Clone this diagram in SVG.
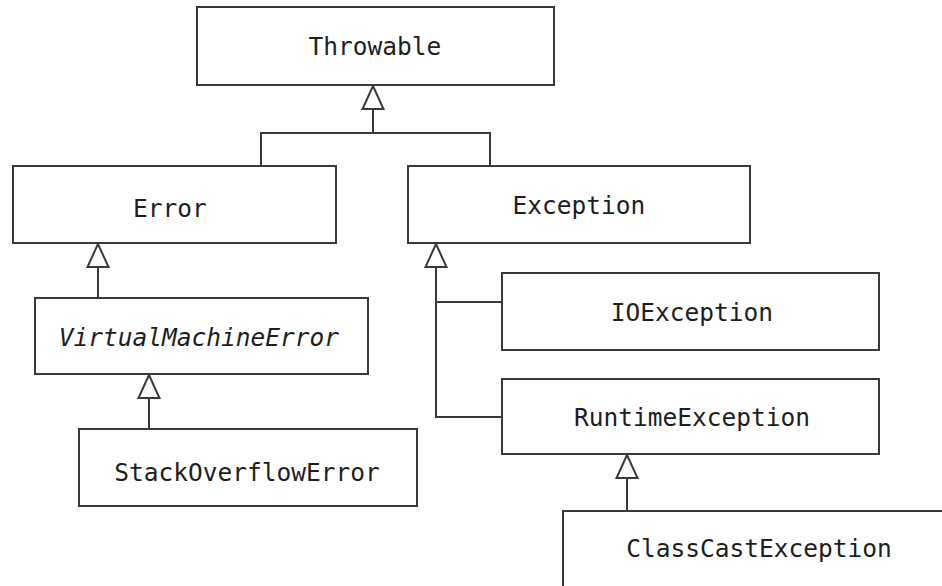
<svg xmlns="http://www.w3.org/2000/svg" width="942" height="586" viewBox="0 0 942 586">
<style>
.box{fill:#fff;stroke:#3a3a3a;stroke-width:2}
.lbl{font-family:"DejaVu Sans Mono","Liberation Mono",monospace;font-size:24.5px;fill:#1e1e1e;text-anchor:middle}
.it{font-style:italic}
.edge{fill:none;stroke:#3a3a3a;stroke-width:2}
</style>
<defs>
<marker id="gen" viewBox="-25 -12 26 24" refX="0" refY="0" markerWidth="26" markerHeight="24" markerUnits="userSpaceOnUse" orient="auto" overflow="visible">
<path d="M0,0 L-23,-10.5 L-23,10.5 Z" fill="#fff" stroke="#3a3a3a" stroke-width="2" stroke-linejoin="miter"/>
</marker>
</defs>
<rect width="942" height="586" fill="#fff"/>
<g id="connectors">
<path class="edge" d="M261,166 V133 H490 V166"/>
<path class="edge" d="M373,133 V86" marker-end="url(#gen)"/>
<path class="edge" d="M98,298 V244" marker-end="url(#gen)"/>
<path class="edge" d="M149,429 V375" marker-end="url(#gen)"/>
<path class="edge" d="M502,302 H436 M502,417 H436 V244" marker-end="url(#gen)"/>
<path class="edge" d="M627,511 V455" marker-end="url(#gen)"/>
</g>
<g id="throwable">
<rect class="box" x="197" y="7" width="357" height="78"/>
<text class="lbl" x="375" y="55">Throwable</text>
</g>
<g id="error">
<rect class="box" x="13" y="166" width="323" height="77"/>
<text class="lbl" x="170" y="217">Error</text>
</g>
<g id="exception">
<rect class="box" x="408" y="166" width="342" height="77"/>
<text class="lbl" x="579" y="214">Exception</text>
</g>
<g id="virtualmachineerror">
<rect class="box" x="35" y="298" width="333" height="76"/>
<text class="lbl it" x="199" y="346">VirtualMachineError</text>
</g>
<g id="stackoverflowerror">
<rect class="box" x="79" y="429" width="338" height="77"/>
<text class="lbl" x="247" y="481">StackOverflowError</text>
</g>
<g id="ioexception">
<rect class="box" x="502" y="273" width="377" height="77"/>
<text class="lbl" x="692" y="321">IOException</text>
</g>
<g id="runtimeexception">
<rect class="box" x="502" y="379" width="377" height="75"/>
<text class="lbl" x="692" y="426">RuntimeException</text>
</g>
<g id="classcastexception">
<rect class="box" x="563" y="511" width="400" height="100"/>
<text class="lbl" x="759" y="557">ClassCastException</text>
</g>
</svg>
